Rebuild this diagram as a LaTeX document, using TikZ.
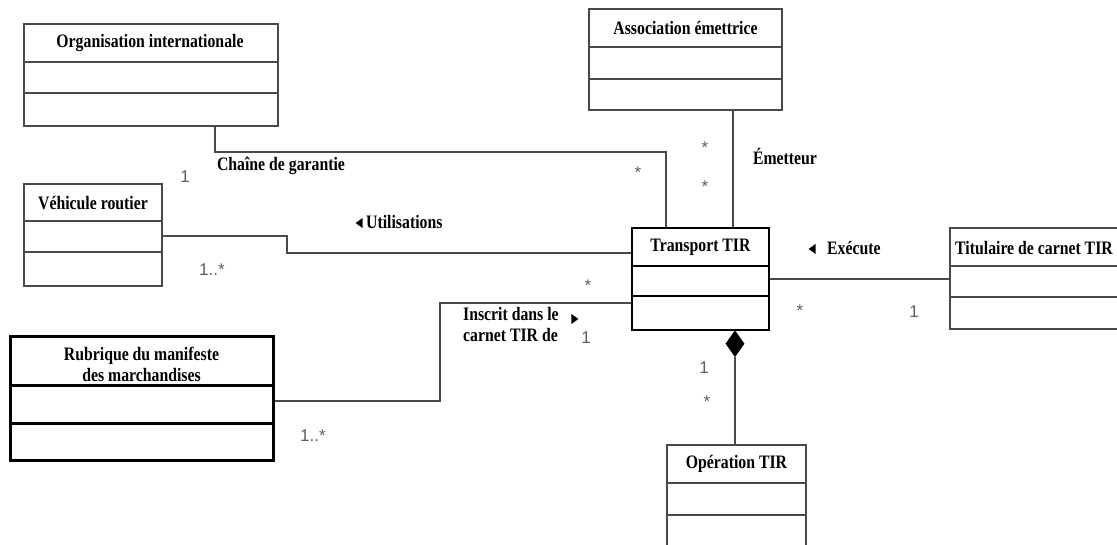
\documentclass[tikz,border=0pt]{standalone}
\usepackage{fontspec}
\usetikzlibrary{shapes.geometric}
\newfontfamily\clsfont[FakeStretch=0.83]{Liberation Serif}
\newfontfamily\mulfont{Liberation Sans}
\definecolor{edge}{HTML}{4A4A4A}
\definecolor{mult}{HTML}{5E5E5E}
\begin{document}
\begin{tikzpicture}[x=1pt,y=-1pt,
  cls/.style={draw=edge, line width=2pt, rectangle, inner sep=0pt},
  clsdark/.style={draw=black, line width=2.4pt, rectangle, inner sep=0pt},
  clsbold/.style={draw=black, line width=3pt, rectangle, inner sep=0pt},
  sep/.style={draw=edge, line width=2pt},
  sepdark/.style={draw=black, line width=2.4pt},
  sepbold/.style={draw=black, line width=3pt},
  ttl/.style={font=\clsfont\bfseries\fontsize{19}{21}\selectfont, inner sep=0pt, align=center},
  lbl/.style={font=\clsfont\bfseries\fontsize{19}{21}\selectfont, inner sep=0pt},
  mul/.style={font=\mulfont\fontsize{17}{19}\selectfont, text=mult, inner sep=0pt},
  assoc/.style={draw=edge, line width=2pt},
  tri/.style={isosceles triangle, fill=black, inner sep=0pt, minimum height=7pt, minimum width=10pt, isosceles triangle stretches}
]
\clip (0,0) rectangle (1117,545);
\fill[white] (0,0) rectangle (1117,545);

% class boxes
\node[cls, minimum width=254pt, minimum height=102pt] (org) at (151,75) {};
\draw[sep] (org.west |- 0,62) -- (org.east |- 0,62);
\draw[sep] (org.west |- 0,93) -- (org.east |- 0,93);
\node[ttl] (orgT) at (150,43) {Organisation internationale};

\node[cls, minimum width=138pt, minimum height=102pt] (veh) at (93,235) {};
\draw[sep] (veh.west |- 0,221) -- (veh.east |- 0,221);
\draw[sep] (veh.west |- 0,252) -- (veh.east |- 0,252);
\node[ttl] (vehT) at (93,203) {Véhicule routier};

\node[cls, minimum width=193pt, minimum height=101pt] (ass) at (685.5,59.5) {};
\draw[sep] (ass.west |- 0,47) -- (ass.east |- 0,47);
\draw[sep] (ass.west |- 0,79) -- (ass.east |- 0,79);
\node[ttl] (assT) at (685.5,28) {Association émettrice};

\node[clsdark, minimum width=137pt, minimum height=102pt] (tir) at (700.5,279) {};
\draw[sepdark] (tir.west |- 0,266) -- (tir.east |- 0,266);
\draw[sepdark] (tir.west |- 0,296) -- (tir.east |- 0,296);
\node[ttl] (tirT) at (700.5,247) {Transport TIR};

\node[cls, minimum width=170pt, minimum height=101pt] (tit) at (1035,278.5) {};
\draw[sep] (tit.west |- 0,266) -- (tit.east |- 0,266);
\draw[sep] (tit.west |- 0,297) -- (tit.east |- 0,297);
\node[ttl] (titT) at (1034,248) {Titulaire de carnet TIR};

\node[clsbold, minimum width=263pt, minimum height=123pt] (rub) at (141.5,398.5) {};
\draw[sepbold] (rub.west |- 0,386) -- (rub.east |- 0,386);
\draw[sepbold] (rub.west |- 0,423) -- (rub.east |- 0,423);
\node[ttl] (rubT) at (141.5,364) {Rubrique du manifeste\\des marchandises};

\node[cls, minimum width=139pt, minimum height=105pt] (op) at (736.5,497.5) {};
\draw[sep] (op.west |- 0,483) -- (op.east |- 0,483);
\draw[sep] (op.west |- 0,515) -- (op.east |- 0,515);
\node[ttl] (opT) at (736.5,464) {Opération TIR};

% associations
\draw[assoc] (215,0 |- org.south) |- (666,152) -- (666,0 |- tir.north);
\draw[assoc] (veh.east |- 0,236) -| (287,253) -- (tir.west |- 0,253);
\draw[assoc] (733,0 |- ass.south) -- (733,0 |- tir.north);
\draw[assoc] (tir.east |- 0,279) -- (tit.west |- 0,279);
\draw[assoc] (rub.east |- 0,401) -| (440,303) -- (tir.west |- 0,303);

% composition
\node[diamond, fill=black, inner sep=0pt, minimum width=19pt, minimum height=27pt, anchor=north] (dia) at (735,330) {};
\draw[assoc] (dia.south) -- (dia.south |- op.north);

% association names
\node[lbl] (lChaine) at (281,166) {Chaîne de garantie};
\node[tri, shape border rotate=180] (aUtil) at (360,223) {};
\node[lbl, anchor=west] (lUtil) at (366,222) {Utilisations};
\node[lbl] (lEmet) at (785,156) {Émetteur};
\node[tri, shape border rotate=180] (aExec) at (813,249) {};
\node[lbl, anchor=west] (lExec) at (827,248) {Exécute};
\node[lbl, anchor=north west, align=left] (lInscr) at (463,307) {Inscrit dans le\\carnet TIR de};
\node[tri] (aInscr) at (574,319) {};

% multiplicities
\node[mul] (m1) at (185,177) {1};
\node[mul] (m2) at (638,173) {*};
\node[mul] (m3) at (212,270) {1..*};
\node[mul] (m4) at (705,148) {*};
\node[mul] (m5) at (705,187) {*};
\node[mul] (m6) at (800,311) {*};
\node[mul] (m7) at (914,312) {1};
\node[mul] (m8) at (588,286) {*};
\node[mul] (m9) at (586,338) {1};
\node[mul] (m10) at (313,436) {1..*};
\node[mul] (m11) at (704,368) {1};
\node[mul] (m12) at (707,402) {*};
\end{tikzpicture}
\end{document}
